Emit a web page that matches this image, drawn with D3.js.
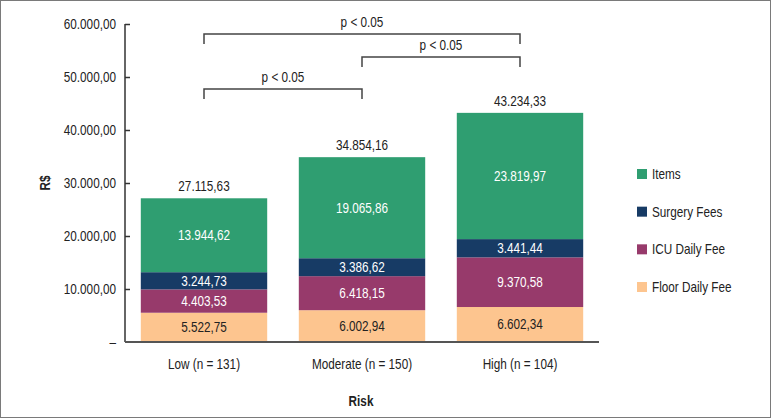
<!DOCTYPE html>
<html><head><meta charset="utf-8">
<script src="https://cdn.jsdelivr.net/npm/d3@7"></script>
<style>
html,body{margin:0;padding:0;background:#fff;}
svg{display:block;}
text{font-family:"Liberation Sans",Arial,sans-serif;}
</style></head>
<body>
<script>
const categories = ["Low (n = 131)", "Moderate (n = 150)", "High (n = 104)"];
const seriesNames = ["Floor Daily Fee", "ICU Daily Fee", "Surgery Fees", "Items"];
const floorDaily = [5522.75, 6002.94, 6602.34];
const icuDaily = [4403.53, 6418.15, 9370.58];
const surgeryFees = [3244.73, 3386.62, 3441.44];
const items = [13944.62, 19065.86, 23819.97];
const totals = [27115.63, 34854.16, 43234.33];
const yTicks = [0, 10000, 20000, 30000, 40000, 50000, 60000];
const comparisons = [
  {a: 0, b: 2, label: "p < 0.05", level: 0},
  {a: 1, b: 2, label: "p < 0.05", level: 1},
  {a: 0, b: 1, label: "p < 0.05", level: 2}
];
const colors = ["#fdc58f", "#973a6b", "#173b65", "#2f9e71"];
const labelColors = ["#222", "#fff", "#fff", "#fff"];

const W = 771, H = 418, SX = 0.84, FS = 14;
const svg = d3.select("body").append("svg").attr("width", W).attr("height", H);
svg.append("rect").attr("x", 0.5).attr("y", 0.5).attr("width", W - 1).attr("height", H - 1)
  .attr("fill", "#fff").attr("stroke", "#7a7a7a").attr("stroke-width", 1);

// narrow text helper
function ntext(parent, px, py, str, o = {}) {
  const t = parent.append("text")
    .attr("transform", `translate(${px},${py})${o.rotate ? ` rotate(${o.rotate})` : ""} scale(${SX},1)`)
    .attr("text-anchor", o.anchor || "middle")
    .attr("font-size", o.size || FS)
    .attr("fill", o.fill || "#222")
    .text(str);
  if (o.dy) t.attr("dy", o.dy);
  if (o.bold) t.attr("font-weight", "bold");
  return t;
}

const x0 = 125, x1 = 599, yBase = 342, yTop = 24;
const x = d3.scaleBand().domain(categories).range([x0, x1]).paddingInner(0.2).paddingOuter(0.1);
const y = d3.scaleLinear().domain([0, 60000]).range([yBase, yTop]);

const fmt = v => {
  const s = v.toFixed(2);
  const [i, d] = s.split(".");
  return i.replace(/\B(?=(\d{3})+(?!\d))/g, ".") + "," + d;
};

const table = categories.map((c, i) => ({
  cat: c,
  "Floor Daily Fee": floorDaily[i],
  "ICU Daily Fee": icuDaily[i],
  "Surgery Fees": surgeryFees[i],
  "Items": items[i]
}));
const stack = d3.stack().keys(seriesNames)(table);

// bars
const g = svg.append("g");
stack.forEach((layer, k) => {
  layer.forEach((d, i) => {
    g.append("rect")
      .attr("x", x(categories[i])).attr("width", x.bandwidth())
      .attr("y", y(d[1])).attr("height", y(d[0]) - y(d[1]))
      .attr("fill", colors[k]);
    ntext(g, x(categories[i]) + x.bandwidth() / 2, (y(d[0]) + y(d[1])) / 2, fmt(d[1] - d[0]),
      {dy: "0.35em", fill: labelColors[k]});
  });
});

// totals
categories.forEach((c, i) => {
  ntext(svg, x(c) + x.bandwidth() / 2, y(totals[i]) - 7, fmt(totals[i]));
});

function narrowTicks(sel) {
  sel.selectAll(".tick text").each(function () {
    const t = d3.select(this);
    const tx = +t.attr("x") || 0;
    t.attr("x", tx / SX).attr("transform", `scale(${SX},1)`)
      .attr("font-size", FS).attr("fill", "#222")
      .attr("font-family", '"Liberation Sans",Arial,sans-serif');
  });
}

// y axis
const yAxis = d3.axisLeft(y).tickValues(yTicks).tickSize(-5).tickPadding(9)
  .tickFormat(v => v === 0 ? "–" : fmt(v));
const ya = svg.append("g").attr("transform", `translate(${x0},0)`).call(yAxis);
ya.select(".domain").attr("stroke", "#333").attr("stroke-width", 1.5).attr("d", `M0,${yTop}V${yBase}`);
ya.selectAll(".tick line").attr("stroke", "#333").attr("stroke-width", 1.5);
ya.selectAll(".tick").filter(d => d === 0).select("line").remove();
narrowTicks(ya);

// x axis
const xAxis = d3.axisBottom(x).tickSize(0).tickPadding(17);
const xa = svg.append("g").attr("transform", `translate(0,${yBase})`).call(xAxis);
xa.select(".domain").attr("stroke", "#555").attr("stroke-width", 2).attr("d", `M${x0},0H${x1}`);
narrowTicks(xa);

// axis titles
ntext(svg, (x0 + x1) / 2 - 1, 406, "Risk", {bold: true});
ntext(svg, 50, 183, "R$", {bold: true, rotate: -90});

// significance brackets
const levelY = [34, 57, 89];
comparisons.forEach(cmp => {
  const xa_ = x(categories[cmp.a]) + x.bandwidth() / 2;
  const xb_ = x(categories[cmp.b]) + x.bandwidth() / 2;
  const yy = levelY[cmp.level];
  svg.append("path").attr("d", `M${xa_},${yy + 10}V${yy}H${xb_}V${yy + 10}`)
    .attr("fill", "none").attr("stroke", "#444").attr("stroke-width", 1.5);
  ntext(svg, (xa_ + xb_) / 2, yy - 7, cmp.label);
});

// legend
const legendOrder = ["Items", "Surgery Fees", "ICU Daily Fee", "Floor Daily Fee"];
const legY = d3.scalePoint().domain(legendOrder).range([174, 287]);
legendOrder.forEach(name => {
  const k = seriesNames.indexOf(name);
  const yy = legY(name);
  svg.append("rect").attr("x", 637).attr("y", yy - 5).attr("width", 10).attr("height", 10).attr("fill", colors[k]);
  ntext(svg, 652, yy, name, {anchor: "start", dy: "0.35em"});
});
</script>
</body></html>
